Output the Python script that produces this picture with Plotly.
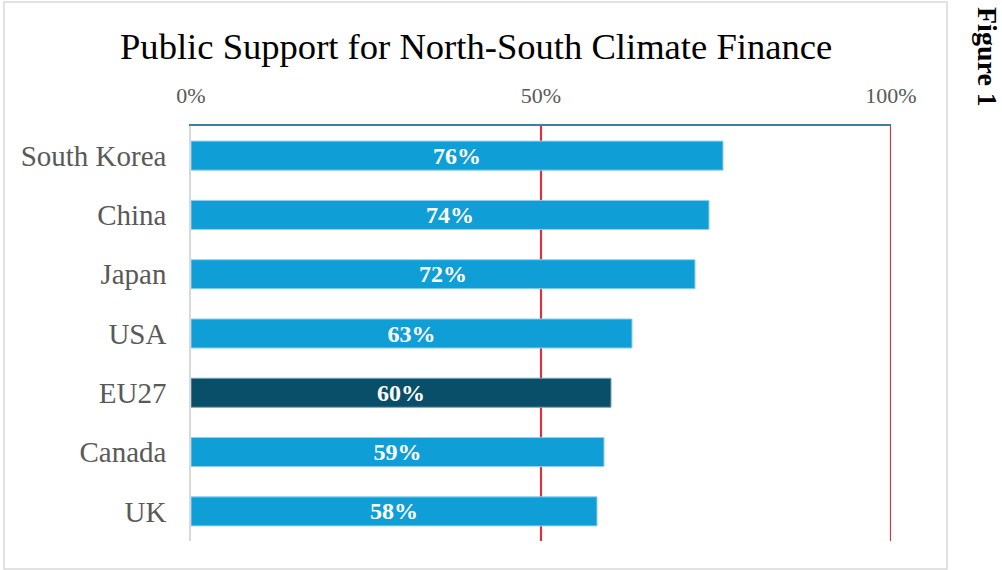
import plotly.graph_objects as go

# Share of respondents supporting climate finance from North to South
countries = ["South Korea", "China", "Japan", "USA", "EU27", "Canada", "UK"]
support_pct = [76, 74, 72, 63, 60, 59, 58]
highlight = "EU27"

x_ticks = [0, 50, 100]
x_tick_labels = ["0%", "50%", "100%"]
reference_lines = [50, 100]

BAR_COLOR = "#109ed6"
BAR_EDGE = "#8fd0ee"
HIGHLIGHT_COLOR = "#0a4f69"
HIGHLIGHT_EDGE = "#7aa5b8"
SERIF = "Liberation Serif"

# plot-area geometry in pixels, used to place paper-referenced items
W, H = 1002, 570
L, R, T, B = 191, 111, 126, 29
pw, ph = W - L - R, H - T - B


def px(x):
    return (x - L) / pw


def py(y):
    return (H - B - y) / ph


colors = [HIGHLIGHT_COLOR if c == highlight else BAR_COLOR for c in countries]
edges = [HIGHLIGHT_EDGE if c == highlight else BAR_EDGE for c in countries]

fig = go.Figure(
    go.Bar(
        x=support_pct,
        y=countries,
        orientation="h",
        marker=dict(color=colors, line=dict(color=edges, width=1)),
        text=[f"{v}%" for v in support_pct],
        textposition="inside",
        insidetextanchor="middle",
        constraintext="none",
        textangle=0,
        textfont=dict(family=SERIF, size=24, color="white", weight="bold"),
        hoverinfo="skip",
    )
)

shapes = [
    dict(
        type="line", xref="x", yref="paper",
        x0=v, x1=v, y0=0, y1=1,
        line=dict(color="#d9343b", width=2.2),
        layer="below",
    )
    for v in reference_lines
]
# outer chart frame
shapes.append(
    dict(
        type="rect", xref="paper", yref="paper",
        x0=px(4), x1=px(947), y0=py(569), y1=py(2),
        line=dict(color="#d9d9d9", width=1.5),
        layer="below",
    )
)

fig.update_layout(
    width=W,
    height=H,
    margin=dict(l=L, r=R, t=T, b=B),
    paper_bgcolor="white",
    plot_bgcolor="white",
    bargap=0.51,
    showlegend=False,
    shapes=shapes,
    annotations=[
        dict(
            text="Public Support for North-South Climate Finance",
            xref="paper", yref="paper",
            x=px(476), y=py(46),
            xanchor="center", yanchor="middle",
            showarrow=False,
            font=dict(family=SERIF, size=36.6, color="black"),
        ),
        dict(
            text="<b>Figure 1</b>",
            xref="paper", yref="paper",
            x=px(987), y=py(57),
            xanchor="center", yanchor="middle",
            textangle=90,
            showarrow=False,
            font=dict(family=SERIF, size=28, color="black"),
        ),
    ],
    xaxis=dict(
        side="top",
        range=[0, 100],
        tickvals=x_ticks,
        ticktext=x_tick_labels,
        tickfont=dict(family=SERIF, size=22, color="#595959"),
        ticks="",
        ticklabelstandoff=12,
        showgrid=False,
        zeroline=False,
        showline=True,
        linecolor="#3f7fa3",
        linewidth=2,
        fixedrange=True,
    ),
    yaxis=dict(
        autorange="reversed",
        tickfont=dict(family=SERIF, size=29, color="#595959"),
        ticks="",
        ticklabelstandoff=17,
        showgrid=False,
        zeroline=False,
        showline=True,
        linecolor="#d9d9d9",
        linewidth=1.5,
        fixedrange=True,
    ),
)

fig.write_html("out.html")
